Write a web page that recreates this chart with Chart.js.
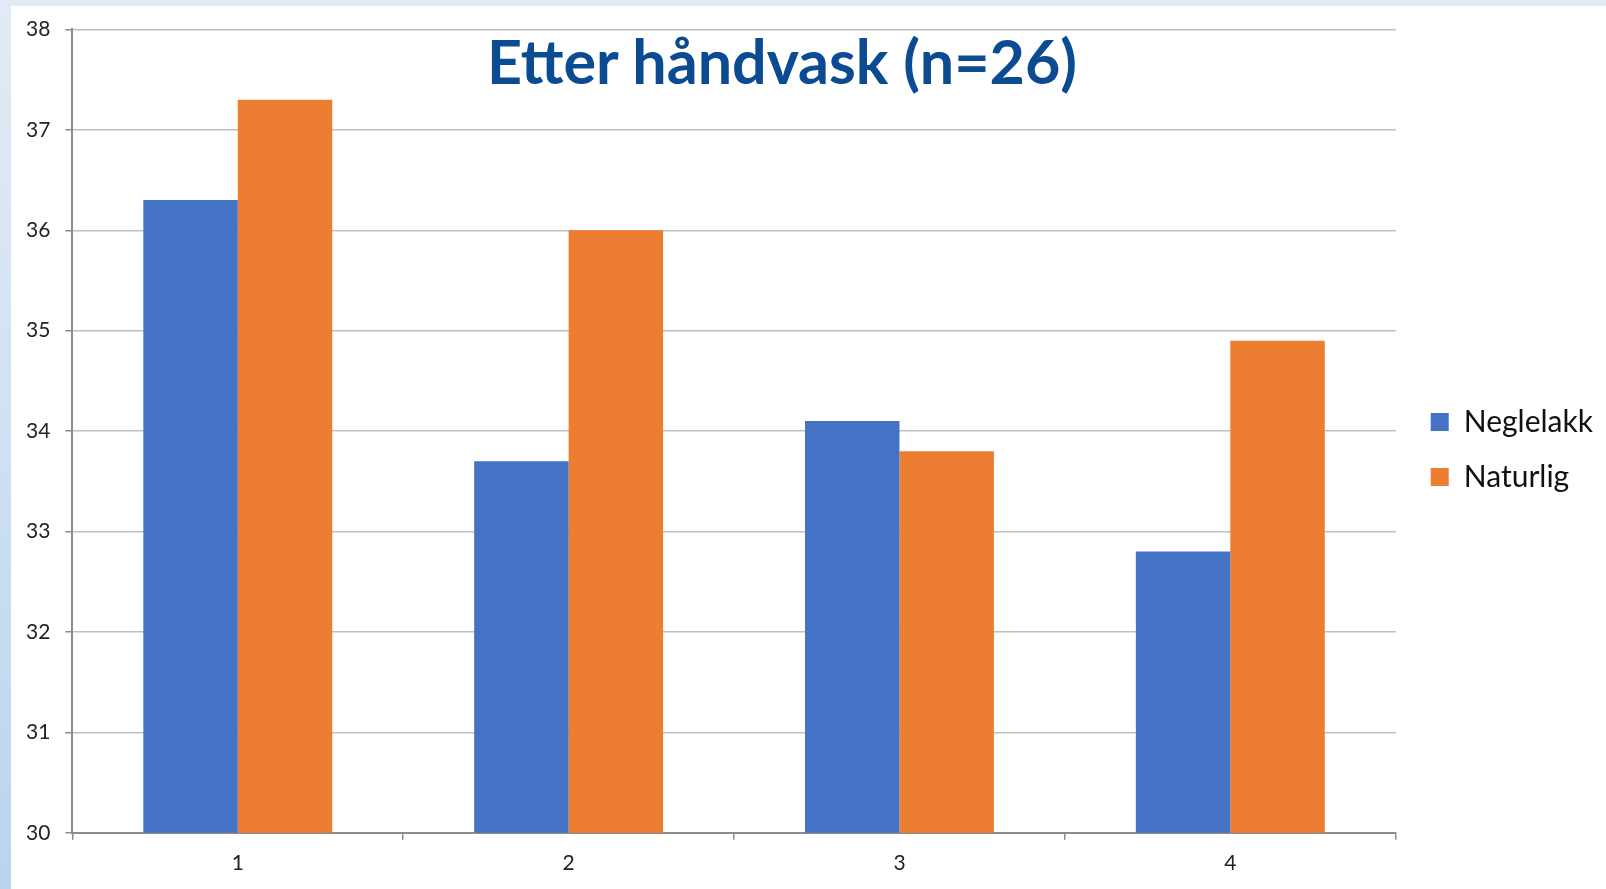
<!DOCTYPE html>
<html>
<head>
<meta charset="utf-8">
<script src="https://cdn.jsdelivr.net/npm/chart.js@4"></script>
<style>
  html, body { margin: 0; padding: 0; }
  body {
    width: 1606px; height: 889px; overflow: hidden; position: relative;
    background: linear-gradient(to bottom, #e2ebf6 0%, #cfe1f2 50%, #b9d4ee 100%);
  }
  #panel {
    position: absolute; left: 11px; top: 6px; width: 1595px; height: 883px;
    background: #ffffff;
  }
  #title {
    position: absolute; left: 782px; top: 30px; transform: translateX(-50%);
    font-family: Lato, sans-serif; font-weight: bold; font-size: 61px; line-height: 61px;
    color: #0a4b92; white-space: nowrap;
  }
</style>
</head>
<body>
<div id="panel"><canvas id="barChart"></canvas></div>
<div id="title">Etter håndvask (n=26)</div>
<script>
// setup
const categories = ['1', '2', '3', '4'];
const neglelakk = [36.3, 33.7, 34.1, 32.8];
const naturlig = [37.3, 36.0, 33.8, 34.9];
const yTicks = [30, 31, 32, 33, 34, 35, 36, 37, 38];

const data = {
  labels: categories,
  datasets: [{
    label: 'Neglelakk',
    data: neglelakk,
    backgroundColor: '#4472c4',
    borderWidth: 0
  }, {
    label: 'Naturlig',
    data: naturlig,
    backgroundColor: '#ed7d31',
    borderWidth: 0
  }]
};

// config
const config = {
  type: 'bar',
  data: data,
  options: {
    responsive: true,
    maintainAspectRatio: false,
    animation: false,
    layout: {
      padding: { left: 0, top: 6, right: 3, bottom: 2 }
    },
    datasets: {
      bar: { categoryPercentage: 0.571, barPercentage: 1.0 }
    },
    plugins: {
      title: { display: false },
      tooltip: { enabled: false },
      legend: {
        position: 'right',
        labels: {
          boxWidth: 18,
          boxHeight: 18,
          padding: 25,
          color: '#111',
          font: { family: 'Lato', size: 30 }
        }
      }
    },
    scales: {
      x: {
        grid: {
          drawOnChartArea: false,
          drawTicks: true,
          tickLength: 7,
          color: '#8c8c8c',
          lineWidth: 1.5
        },
        border: { color: '#8c8c8c', width: 2 },
        ticks: {
          color: '#222',
          padding: 11,
          font: { family: 'Lato', size: 21 }
        }
      },
      y: {
        min: 30,
        max: 38,
        afterBuildTicks: (axis) => {
          axis.ticks = yTicks.map(v => ({ value: v }));
        },
        grid: {
          color: '#bfbfbf',
          lineWidth: 1.5,
          tickLength: 7,
          tickColor: '#8c8c8c'
        },
        border: { color: '#8c8c8c', width: 2 },
        ticks: {
          color: '#222',
          padding: 15,
          font: { family: 'Lato', size: 21, lineHeight: 0.8 }
        }
      },
      // empty spacer between plot and legend
      gap: {
        type: 'linear',
        position: 'right',
        grid: { display: false },
        border: { display: false },
        ticks: { display: false },
        afterFit: (axis) => { axis.width = 10; }
      }
    }
  }
};

// render init block
const myChart = new Chart(
  document.getElementById('barChart'),
  config
);
</script>
</body>
</html>
